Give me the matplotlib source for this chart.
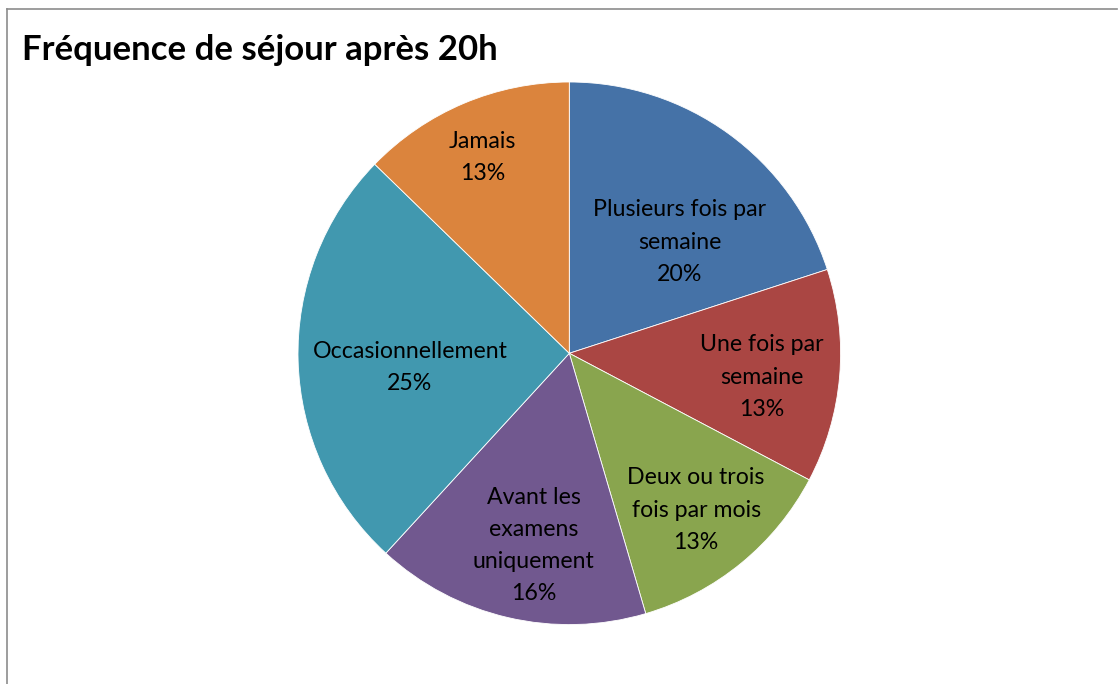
import matplotlib
matplotlib.use("Agg")
import matplotlib.pyplot as plt
import numpy as np

categories = ["Plusieurs fois par\nsemaine", "Une fois par\nsemaine", "Deux ou trois\nfois par mois",
              "Avant les\nexamens\nuniquement", "Occasionnellement", "Jamais"]
values = [11, 7, 7, 9, 14, 7]
colors = ["#4572A7", "#AA4643", "#89A54E", "#71588F", "#4198AF", "#DB843D"]
title = "Fréquence de séjour après 20h"

# label placement tweaks (clockwise angle shift in degrees, radial fraction)
label_shift = [8.7, 2.1, 0.3, -2.55, -3.3, -0.95]
label_rad = [0.577, 0.716, 0.743, 0.721, 0.590, 0.791]

plt.rcParams['font.family'] = ['Lato', 'DejaVu Sans']

fig = plt.figure(figsize=(11.18, 6.84), dpi=100)
ax = fig.add_axes([(569.3 - 271.3) / 1118, (684 - 353.3 - 271.3) / 684, 542.6 / 1118, 542.6 / 684])
wedges, _ = ax.pie(values, colors=colors, startangle=90, counterclock=False,
                   wedgeprops=dict(linewidth=0.6, edgecolor="white"))
ax.set_aspect("equal")
ax.set_xlim(-1, 1)
ax.set_ylim(-1, 1)
ax.axis("off")

total = sum(values)
for w, cat, v, sh, r in zip(wedges, categories, values, label_shift, label_rad):
    mid = (w.theta1 + w.theta2) / 2 - sh
    x = r * np.cos(np.deg2rad(mid))
    y = r * np.sin(np.deg2rad(mid))
    pct = round(100 * v / total)
    ax.text(x, y, f"{cat}\n{pct}%", ha="center", va="center", fontsize=16.7,
            linespacing=1.65, color="black")

fig.text(22 / 1118, 1 - 50 / 684, title, fontsize=25, fontweight="bold", ha="left", va="center")

# chart border (top and left visible)
fig.add_artist(plt.Line2D([7 / 1118, 1117 / 1118], [1 - 9 / 684, 1 - 9 / 684], color="#8c8c8c", lw=1.2,
                          transform=fig.transFigure))
fig.add_artist(plt.Line2D([7 / 1118, 7 / 1118], [0, 1 - 9 / 684], color="#8c8c8c", lw=1.2,
                          transform=fig.transFigure))

fig.savefig("out.png", dpi=100)
